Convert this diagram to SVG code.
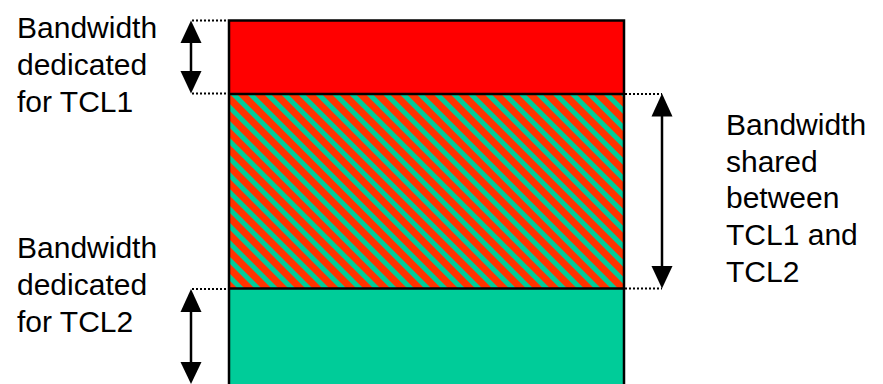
<svg xmlns="http://www.w3.org/2000/svg" width="883" height="384" viewBox="0 0 883 384">
<style>
.lbl{font-family:"Liberation Sans",Arial,sans-serif;font-size:30px;fill:#000}
.dot{stroke:#000;stroke-width:2;stroke-dasharray:2 2;fill:none}
.shaft{stroke:#000;stroke-width:2.5;fill:none}
.head{fill:#000}
.edge{stroke:#000;stroke-width:2.5;fill:none}
</style>
<defs>
<pattern id="hatch" patternUnits="userSpaceOnUse" width="12" height="12" patternTransform="rotate(-45)">
<rect width="12" height="12" fill="#FF3300"/>
<rect x="0" y="0" width="5" height="12" fill="#00CC99"/>
</pattern>
</defs>
<rect width="883" height="384" fill="#fff"/>
<g id="bar">
<rect id="tcl1" x="229" y="20.5" width="395" height="73.5" fill="#FF0000"/>
<rect id="shared" x="229" y="94" width="395" height="194.5" fill="url(#hatch)"/>
<rect id="tcl2" x="229" y="288.5" width="395" height="100" fill="#00CC99"/>
<path class="edge" d="M229,390 V20.5 H624 V390"/>
<line class="edge" x1="229" y1="94" x2="624" y2="94"/>
<line class="edge" x1="229" y1="288.5" x2="624" y2="288.5"/>
</g>
<g id="connectors">
<line class="dot" x1="192" y1="20.5" x2="228" y2="20.5"/>
<line class="dot" x1="192" y1="93.5" x2="228" y2="93.5"/>
<line class="dot" x1="192" y1="289" x2="228" y2="289"/>
<line class="dot" x1="625" y1="94" x2="662" y2="94"/>
<line class="dot" x1="625" y1="288.5" x2="662" y2="288.5"/>
<line class="shaft" x1="191" y1="40" x2="191" y2="75"/>
<polygon class="head" points="191,20.5 180.5,43 201.5,43"/>
<polygon class="head" points="191,93.5 180.5,71 201.5,71"/>
<line class="shaft" x1="191" y1="308" x2="191" y2="366"/>
<polygon class="head" points="191,289 180.5,312 201.5,312"/>
<polygon class="head" points="191,384 180.5,362 201.5,362"/>
<line class="shaft" x1="662" y1="114" x2="662" y2="268"/>
<polygon class="head" points="662,93.5 651.5,116.5 672.5,116.5"/>
<polygon class="head" points="662,288.5 651.5,266 672.5,266"/>
</g>
<g id="label-tcl1">
<text class="lbl" x="17" y="38.3">Bandwidth</text>
<text class="lbl" x="17" y="75">dedicated</text>
<text class="lbl" x="17" y="111.7">for TCL1</text>
</g>
<g id="label-tcl2">
<text class="lbl" x="17" y="258.3">Bandwidth</text>
<text class="lbl" x="17" y="295">dedicated</text>
<text class="lbl" x="17" y="331.7">for TCL2</text>
</g>
<g id="label-shared">
<text class="lbl" x="726" y="135">Bandwidth</text>
<text class="lbl" x="726" y="171.7">shared</text>
<text class="lbl" x="726" y="208.3">between</text>
<text class="lbl" x="726" y="245">TCL1 and</text>
<text class="lbl" x="726" y="281.7">TCL2</text>
</g>
</svg>
